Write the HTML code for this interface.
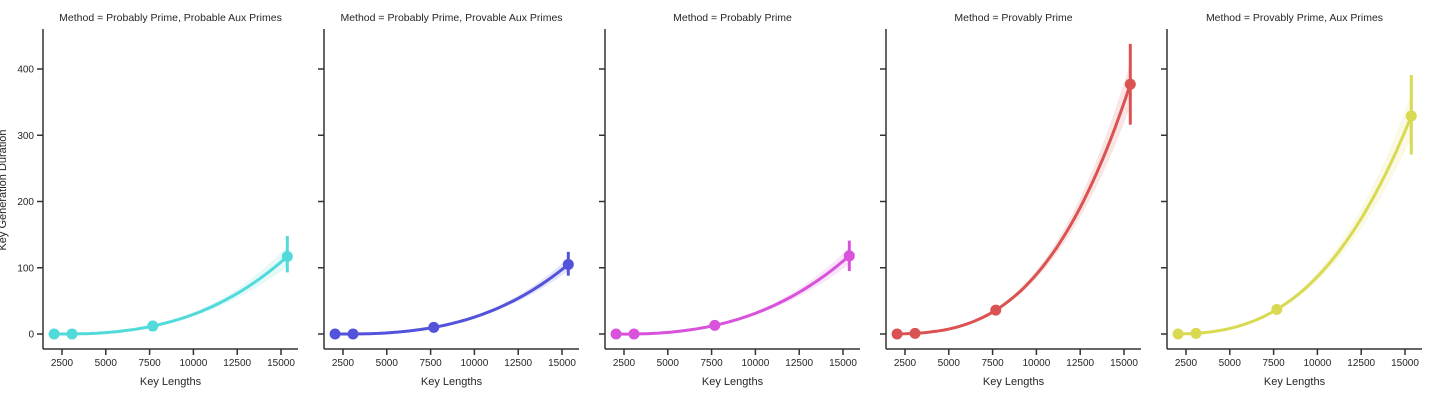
<!DOCTYPE html>
<html><head><meta charset="utf-8">
<style>
html,body{margin:0;padding:0;background:#fff;}
svg{display:block;font-family:"Liberation Sans",sans-serif;}
</style></head>
<body>
<svg id="chart" width="1442" height="400" viewBox="0 0 1442 400"></svg>
<script>
const panelTitles = ["Method = Probably Prime, Probable Aux Primes","Method = Probably Prime, Provable Aux Primes","Method = Probably Prime","Method = Provably Prime","Method = Provably Prime, Aux Primes"];
const panelColors = ["#52d9d9","#5252db","#d952db","#db5252","#d9d952"];
const keyLengths = [2048,3072,7680,15360];
const meanDur = [[0,0,12,117],[0,0,10,105],[0,0,13,118],[0,1,36,377],[0,1,37,329]];
const ciLow = [[0,0,11,93],[0,0,9,88],[0,0,12,95],[0,0,33,316],[0,0,34,271]];
const ciHigh = [[1,1,13,148],[1,1,11,124],[1,1,14,141],[1,2,40,438],[1,2,41,391]];
const xTicks = [2500,5000,7500,10000,12500,15000];
const yTicks = [0,100,200,300,400];

const svg = document.getElementById('chart');
const NS = 'http://www.w3.org/2000/svg';
function mk(tag, attrs, parent){const e=document.createElementNS(NS,tag);for(const k in attrs)e.setAttribute(k,attrs[k]);(parent||svg).appendChild(e);return e;}
const panelStep = 281, axLeft = 43, axRight = 298, axTop = 29, axBottom = 349;
function xs(v, p){return 62 + p*panelStep + (v-2500)*0.01752;}
function ys(v){return 334 - v*0.6625;}
function lagrange(xsArr, ysArr, x){let s=0;for(let i=0;i<xsArr.length;i++){let t=ysArr[i];for(let j=0;j<xsArr.length;j++){if(j!==i)t*=(x-xsArr[j])/(xsArr[i]-xsArr[j]);}s+=t;}return s;}

for(let p=0;p<5;p++){
  const g = mk('g',{});
  
  
  const ox = p*panelStep;
  const col = panelColors[p];
  const t = mk('text',{x:axLeft+ox+(axRight-axLeft)/2,y:21,'text-anchor':'middle','font-size':'10.5',fill:'#262626'},g);
  t.textContent = panelTitles[p];
  
  
  const n=60, top=[], bot=[];
  const relEnd = (ciHigh[p][3]-ciLow[p][3])/2/Math.max(meanDur[p][3],1)*0.55;
  for(let i=0;i<=n;i++){
    const x = keyLengths[0] + (keyLengths[3]-keyLengths[0])*i/n;
    const y = lagrange(keyLengths, meanDur[p], x);
    const w = Math.abs(y)*relEnd*(0.4+0.6*i/n);
    top.push(xs(x,p).toFixed(1)+','+ys(y+w).toFixed(1));
    bot.unshift(xs(x,p).toFixed(1)+','+ys(y-w).toFixed(1));
  }
  const band = mk('polygon',{points:top.concat(bot).join(' '),fill:col,'fill-opacity':'0.15',stroke:'none'},g);
  
  
  const pts=[];
  for(let i=0;i<=n;i++){const x=keyLengths[0]+(keyLengths[3]-keyLengths[0])*i/n;pts.push(xs(x,p).toFixed(1)+','+ys(lagrange(keyLengths,meanDur[p],x)).toFixed(1));}
  const line = mk('polyline',{points:pts.join(' '),fill:'none',stroke:col,'stroke-width':'3'},g);
  
  
  for(let i=0;i<keyLengths.length;i++){
    const eb = mk('line',{x1:xs(keyLengths[i],p),x2:xs(keyLengths[i],p),y1:ys(ciLow[p][i]),y2:ys(ciHigh[p][i]),stroke:col,'stroke-width':'3'},g);
    
    
    const c = mk('circle',{cx:xs(keyLengths[i],p),cy:ys(meanDur[p][i]),r:5.5,fill:col},g);
    
    
  }
  const ya = mk('line',{x1:axLeft+ox,x2:axLeft+ox,y1:axTop,y2:axBottom,stroke:'#333','stroke-width':'1.5'},g);
  
  
  const xa = mk('line',{x1:axLeft+ox,x2:axRight+ox,y1:axBottom,y2:axBottom,stroke:'#333','stroke-width':'1.5'},g);
  
  
  for(const v of yTicks){
    mk('line',{x1:axLeft+ox-6,x2:axLeft+ox,y1:ys(v),y2:ys(v),stroke:'#333','stroke-width':'1.5'},g);
    if(p===0){
      const tl = mk('text',{x:axLeft-9,y:ys(v)+3.5,'text-anchor':'end','font-size':'10',fill:'#262626'},g);
      tl.textContent=v;
      
      
    }
  }
  for(const v of xTicks){
    mk('line',{x1:xs(v,p),x2:xs(v,p),y1:axBottom,y2:axBottom+6,stroke:'#333','stroke-width':'1.5'},g);
    const tl = mk('text',{x:xs(v,p),y:axBottom+17,'text-anchor':'middle','font-size':'10',fill:'#262626'},g);
    tl.textContent=v;
    
    
  }
  const xl = mk('text',{x:axLeft+ox+(axRight-axLeft)/2,y:385,'text-anchor':'middle','font-size':'11',fill:'#262626'},g);
  xl.textContent='Key Lengths';
  
  
}
const yl = mk('text',{x:0,y:0,transform:'translate(6,190) rotate(-90)','text-anchor':'middle','font-size':'11',fill:'#262626'});
yl.textContent='Key Generation Duration';


</script>
</body></html>
